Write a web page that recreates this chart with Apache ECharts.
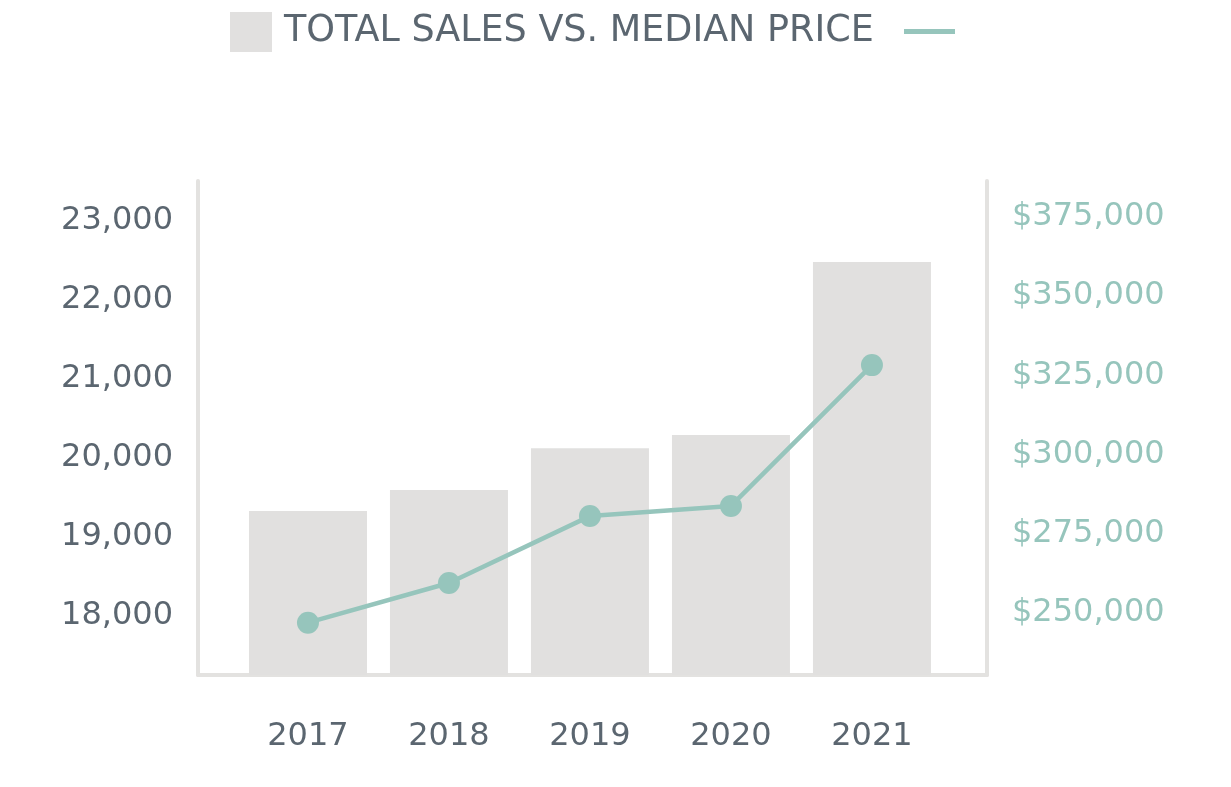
<!DOCTYPE html>
<html lang="en">
<head>
    <meta charset="UTF-8">
    <title>Total Sales vs. Median Price</title>
    <script type="text/javascript" src="https://cdn.jsdelivr.net/npm/echarts@6/dist/echarts.min.js"></script>
    <style>
        html, body { margin: 0; padding: 0; background: #fff; }
    </style>
</head>
<body>
    <div id="main" style="width: 1231px; height: 787px;"></div>
    <script type="text/javascript">
        // data
        var years = [2017, 2018, 2019, 2020, 2021];
        var totalSales = [19325, 19590, 20120, 20285, 22475];
        var medianPrice = [247000, 259500, 280600, 283800, 328200];
        var salesTicks = [18000, 19000, 20000, 21000, 22000, 23000];
        var priceTicks = [250000, 275000, 300000, 325000, 350000, 375000];

        var grey = '#5b6670';
        var green = '#96c5bc';
        var barGrey = '#e1e0df';
        var lineGrey = '#e3e2e0';
        var font = 'DejaVu Sans';

        function commas(v) {
            return String(v).replace(/\B(?=(\d{3})+(?!\d))/g, ',');
        }

        var myChart = echarts.init(document.getElementById('main'));

        var option = {
            animation: false,
            legend: [{
                data: [{ name: 'sales', icon: 'rect' }],
                left: 230,
                top: 12,
                padding: 0,
                itemWidth: 42,
                itemHeight: 40,
                selectedMode: false,
                formatter: function () { return 'TOTAL SALES VS. MEDIAN PRICE'; },
                textStyle: { color: grey, fontFamily: font, fontSize: 36.5, padding: [4, 0, 0, 7] }
            }, {
                data: [{ name: 'price', icon: 'rect' }],
                left: 904,
                top: 29,
                padding: 0,
                itemWidth: 51,
                itemHeight: 5,
                selectedMode: false,
                formatter: function () { return ''; },
                textStyle: { fontSize: 5 }
            }],
            grid: { left: 198, right: 244, top: 181, bottom: 112 },
            xAxis: {
                type: 'value',
                min: 2016.22,
                max: 2021.816,
                axisLine: { show: true, onZero: false, lineStyle: { color: lineGrey, width: 4 } },
                axisTick: { show: false },
                splitLine: { show: false },
                axisLabel: {
                    customValues: years,
                    formatter: function (v) { return String(v); },
                    color: grey, fontFamily: font, fontSize: 32, margin: 46
                }
            },
            yAxis: [{
                type: 'value',
                min: 17250,
                max: 23500,
                axisLine: { show: true, onZero: false, lineStyle: { color: lineGrey, width: 4 } },
                axisTick: { show: false },
                splitLine: { show: false },
                axisLabel: {
                    customValues: salesTicks,
                    formatter: commas,
                    color: grey, fontFamily: font, fontSize: 32, margin: 25
                }
            }, {
                type: 'value',
                position: 'right',
                min: 230500,
                max: 386250,
                axisLine: { show: true, onZero: false, lineStyle: { color: lineGrey, width: 4 } },
                axisTick: { show: false },
                splitLine: { show: false },
                axisLabel: {
                    customValues: priceTicks,
                    formatter: function (v) { return '$' + commas(v); },
                    color: green, fontFamily: font, fontSize: 32, margin: 25
                }
            }],
            series: [{
                name: 'sales',
                type: 'bar',
                barWidth: 118,
                itemStyle: { color: barGrey },
                data: years.map(function (y, i) { return [y, totalSales[i]]; })
            }, {
                name: 'price',
                type: 'line',
                yAxisIndex: 1,
                symbol: 'circle',
                symbolSize: 22,
                itemStyle: { color: green },
                lineStyle: { color: green, width: 4.5 },
                data: years.map(function (y, i) { return [y, medianPrice[i]]; })
            }]
        };

        myChart.setOption(option);
    </script>
</body>
</html>
